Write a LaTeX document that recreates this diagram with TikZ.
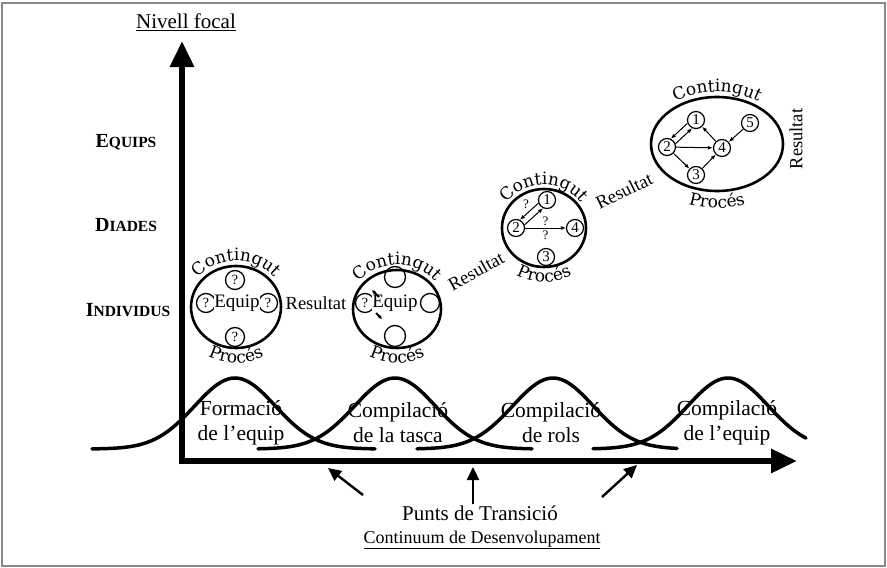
\documentclass[tikz,border=0pt]{standalone}
\usepackage{fontspec}
\setmainfont{Liberation Serif}
\newfontfamily\arcFontFamily{DejaVu Serif}
\usetikzlibrary{positioning, arrows.meta, decorations.text}
\tikzstyle{chart} = [x = 1pt, y = -1pt, every node/.style={inner sep=1pt}]
\definecolor{frameColor}{RGB}{136,136,136}
\tikzstyle{frameStyle} = [color=frameColor, line width=2pt]
\tikzstyle{axisLine} = [line width=6pt, -{Triangle[length=26pt, width=23pt]}]
\tikzstyle{humpLine} = [line width=3.5pt, line cap=round]
\tikzstyle{ellipseLine} = [line width=2.6pt]
\tikzstyle{transArrow} = [line width=2.4pt, -{Triangle[length=13pt, width=12pt]}]
\tikzstyle{smallArrow} = [line width=1pt, -{Latex[length=5pt, width=4pt]}]
\tikzstyle{tinyArrow} = [line width=1.8pt, -{Latex[length=3.5pt, width=4pt]}]
\tikzstyle{memberNode} = [circle, draw, line width=1.3pt, minimum size=19pt, inner sep=0pt, font=\fontsize{14}{14}\selectfont]
\tikzstyle{numberNode} = [circle, draw, line width=1.2pt, minimum size=17pt, inner sep=0pt, font=\fontsize{15}{15}\selectfont]
\tikzstyle{teamText} = [fill=white, inner sep=0.3pt, font=\fontsize{19}{19}\selectfont]
\tikzstyle{qMark} = [inner sep=0pt, font=\fontsize{13}{13}\selectfont]
\tikzstyle{resultText} = [font=\fontsize{18.5}{18.5}\selectfont]
\tikzstyle{phaseText} = [align=center, font=\fontsize{21.5}{25}\selectfont]
\tikzstyle{levelText} = [font=\bfseries]
\tikzstyle{titleText} = [font=\fontsize{21}{21}\selectfont]
\newcommand{\arcFont}{\arcFontFamily\fontsize{17}{17}\selectfont}
\newcommand{\fakeSC}[2]{{\fontsize{20}{20}\selectfont #1}{\fontsize{15.5}{15.5}\selectfont #2}}
% ellipse with the two curved words: x, y, x radius, y radius, top gap, bottom gap
\newcommand{\focusEllipse}[6]{
  \draw[ellipseLine] (#1,#2) ellipse [x radius=#3, y radius=#4];
  \path[decorate, decoration={text along path, text align=center, text={|\arcFont|Contingut}}]
    ([shift={(195:{#3+#5} and {#4+#5})}]#1,#2) arc[start angle=195, end angle=345, x radius={#3+#5}, y radius={#4+#5}];
  \path[decorate, decoration={text along path, text align=center, text={|\arcFont|Procés}}]
    ([shift={(155:{#3+#6} and {#4+#6})}]#1,#2) arc[start angle=155, end angle=25, x radius={#3+#6}, y radius={#4+#6}];
}

\begin{document}
\begin{tikzpicture}[chart]
  \useasboundingbox (0,0) rectangle (887,568);
  \draw[frameStyle] (2,3) rectangle (885,566);

  % axes
  \coordinate (origin) at (182,461);
  \coordinate (focalTip) at (182,41);
  \coordinate (timeTip) at (797,461);
  \draw[axisLine] ([yshift=-3]origin) -- (focalTip);
  \draw[axisLine] ([xshift=-3]origin) -- (timeTip);
  \node[titleText] (focalTitle) at (186,22) {\underline{Nivell focal}};
  \node[levelText] (equipsLevel) at (126,142) {\fakeSC{E}{QUIPS}};
  \node[levelText] (diadesLevel) at (126,225) {\fakeSC{D}{IADES}};
  \node[levelText] (individusLevel) at (128,310) {\fakeSC{I}{NDIVIDUS}};

  % phases
  \foreach \peak/\startX/\endX in {235/92/375, 395/258/532, 553/417/677, 728/593/806} {
    \draw[humpLine] plot[domain=\startX:\endX, samples=80, smooth]
      (\x, {449 - 71*exp(-((\x-\peak)/57)*((\x-\peak)/57))});
  }
  \node[phaseText] (formacioPhase) at (241,423) {Formació\\de l’equip};
  \node[phaseText] (tascaPhase) at (398,423) {Compilació\\de la tasca};
  \node[phaseText] (rolsPhase) at (551,423) {Compilació\\de rols};
  \node[phaseText] (equipPhase) at (727,423) {Compilació\\de l’equip};

  % transition points
  \node[titleText] (punts) at (480,513) {Punts de Transició};
  \node[titleText, font=\fontsize{18}{18}\selectfont] (continuum) at (482,540) {\underline{Continuum de Desenvolupament}};
  \coordinate (leftTail) at (363,495);
  \coordinate (leftTip) at (328,468);
  \coordinate (midTip) at (473,467);
  \coordinate (rightTail) at (602,497);
  \coordinate (rightTip) at (637,465);
  \draw[transArrow] (leftTail) -- (leftTip);
  \draw[transArrow] (punts.north -| midTip) -- (midTip);
  \draw[transArrow] (rightTail) -- (rightTip);

  % individus
  \focusEllipse{236}{307}{45}{41}{5}{15}
  \node[memberNode] (indivTop) at (235,280) {?};
  \node[memberNode] (indivBottom) at (235,337) {?};
  \node[memberNode] (indivLeft) at (206,303) {?};
  \node[memberNode] (indivRight) at (268,303) {?};
  \node[teamText] (indivTeam) at (237,303) {Equip};
  \node[resultText] (result1) at (316,303) {Resultat};

  % second stage
  \focusEllipse{397}{309}{44}{39}{5}{15}
  \node[memberNode, minimum size=21pt] (pairTop) at (395,277) {};
  \node[memberNode, minimum size=21pt] (pairBottom) at (395,336) {};
  \node[memberNode] (pairLeft) at (365,303) {?};
  \node[memberNode] (pairRight) at (430,303) {};
  \node[teamText] (pairTeam) at (395,303) {Equip};
  \coordinate (tinyA) at (379,297);
  \coordinate (tinyAEnd) at (372,290);
  \coordinate (tinyB) at (376,313);
  \coordinate (tinyBEnd) at (382,319);
  \draw[tinyArrow] (tinyA) -- (tinyAEnd);
  \draw[tinyArrow] (tinyB) -- (tinyBEnd);
  \node[resultText, rotate=29] (result2) at (476,271) {Resultat};

  % diades
  \focusEllipse{544}{228}{42}{39}{4}{15}
  \node[numberNode] (dyad1) at (547,200) {1};
  \node[numberNode] (dyad2) at (516,228) {2};
  \node[numberNode] (dyad4) at (575,228) {4};
  \node[numberNode] (dyad3) at (546,257) {3};
  \draw[smallArrow] (dyad1.200) -- (dyad2.64);
  \draw[smallArrow] (dyad2.20) -- (dyad1.244);
  \node[qMark] (dyadQ) at (526,204) {?};
  \draw[smallArrow] (dyad2) -- node[qMark, above=2pt] (dyadQa) {?} node[qMark, below=2pt] (dyadQb) {?} (dyad4);
  \node[resultText, rotate=26] (result3) at (624,191) {Resultat};

  % equips
  \focusEllipse{717}{144}{66}{47}{5}{17}
  \node[numberNode] (team1) at (696,120) {1};
  \node[numberNode] (team2) at (667,147) {2};
  \node[numberNode] (team4) at (722,148) {4};
  \node[numberNode] (team3) at (696,175) {3};
  \node[numberNode] (team5) at (750,123) {5};
  \draw[smallArrow] (team1.201) -- (team2.65);
  \draw[smallArrow] (team2.21) -- (team1.245);
  \draw[smallArrow] (team2) -- (team4);
  \draw[smallArrow] (team2) -- (team3);
  \draw[smallArrow] (team3) -- (team4);
  \draw[smallArrow] (team4) -- (team1);
  \draw[smallArrow] (team5) -- (team4);
  \node[resultText, rotate=90] (result4) at (796,139) {Resultat};
\end{tikzpicture}
\end{document}
